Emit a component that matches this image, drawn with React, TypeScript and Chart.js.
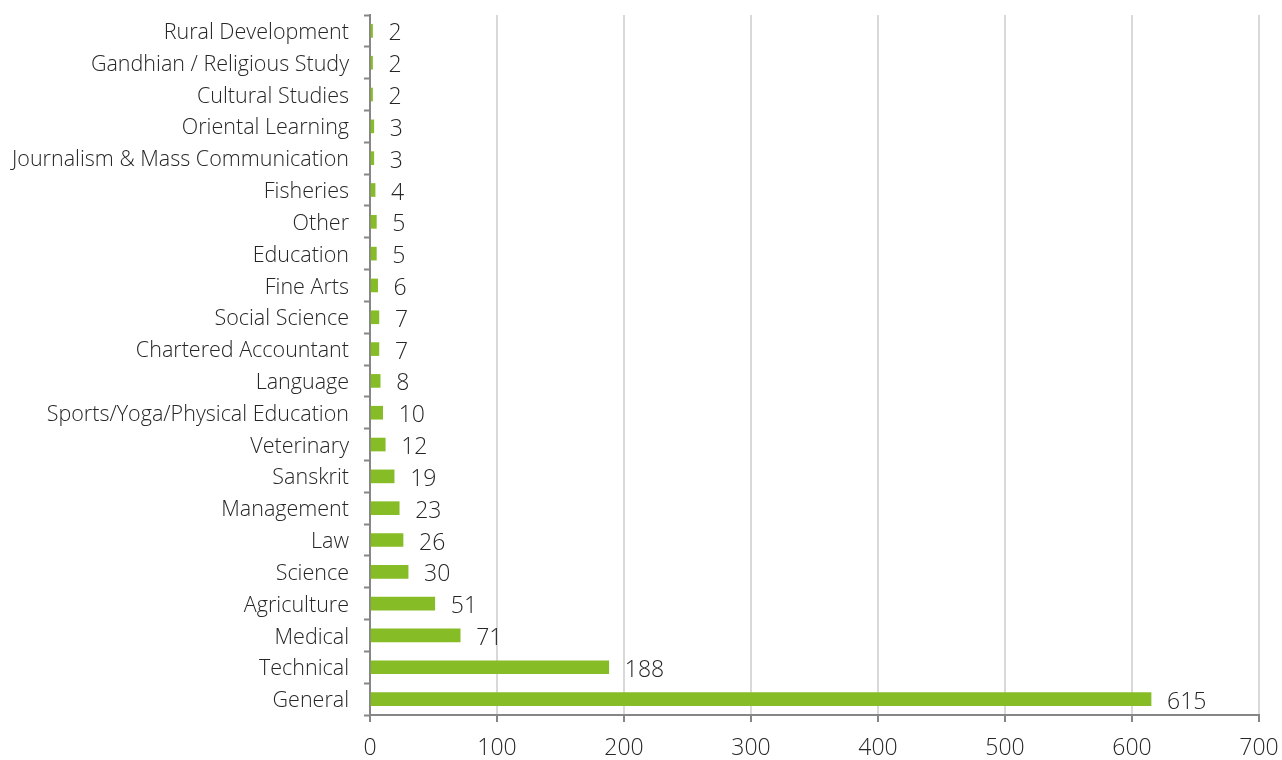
import React, { useEffect, useRef } from "react";
import { Chart, registerables } from "chart.js";

Chart.register(...registerables);

const categories = [
  "Rural Development",
  "Gandhian / Religious Study",
  "Cultural Studies",
  "Oriental Learning",
  "Journalism & Mass Communication",
  "Fisheries",
  "Other",
  "Education",
  "Fine Arts",
  "Social Science",
  "Chartered Accountant",
  "Language",
  "Sports/Yoga/Physical Education",
  "Veterinary",
  "Sanskrit",
  "Management",
  "Law",
  "Science",
  "Agriculture",
  "Medical",
  "Technical",
  "General",
];

const values = [2, 2, 2, 3, 3, 4, 5, 5, 6, 7, 7, 8, 10, 12, 19, 23, 26, 30, 51, 71, 188, 615];

const xMin = 0;
const xMax = 700;
const xStep = 100;

const FONT = "'Open Sans', 'Noto Sans', sans-serif";
const TEXT = "#262626";
const BAR = "#86bc25";

const dataLabels = {
  id: "dataLabels",
  afterDatasetsDraw(chart: any) {
    const ctx = chart.ctx;
    const meta = chart.getDatasetMeta(0);
    ctx.save();
    ctx.font = `300 23px ${FONT}`;
    ctx.fillStyle = TEXT;
    ctx.textAlign = "left";
    ctx.textBaseline = "middle";
    meta.data.forEach((el: any, i: number) => {
      ctx.fillText(String(values[i]), el.x + 16, el.y + 3);
    });
    ctx.restore();
  },
};

export default function App() {
  const ref = useRef<HTMLCanvasElement | null>(null);
  useEffect(() => {
    document.body.style.margin = "0";
    const chart = new Chart(ref.current!, {
      type: "bar",
      data: {
        labels: categories,
        datasets: [
          {
            data: values,
            backgroundColor: BAR,
            barThickness: 13,
          },
        ],
      },
      options: {
        indexAxis: "y",
        animation: false,
        responsive: false,
        layout: { padding: { top: 15, right: 23, left: 0, bottom: 0 } },
        plugins: { legend: { display: false }, tooltip: { enabled: false } },
        scales: {
          x: {
            min: xMin,
            max: xMax,
            ticks: { stepSize: xStep, color: TEXT, font: { family: FONT, size: 23, weight: "300" }, padding: 13 },
            grid: { color: "#d9d9d9", lineWidth: 2, tickColor: "#868686", tickLength: 7, tickWidth: 2 },
            border: { color: "#868686", width: 2 },
            afterFit(scale: any) {
              scale.height = 45;
              scale.paddingLeft = 0;
              scale.paddingRight = 0;
            },
          },
          y: {
            offset: true,
            ticks: {
              color: TEXT,
              font: { family: FONT, size: 21.5, weight: "300" },
              padding: 15,
              labelOffset: 2,
              autoSkip: false,
            },
            grid: { offset: true, drawOnChartArea: false, tickColor: "#868686", tickLength: 6, tickWidth: 2 },
            border: { color: "#868686", width: 2 },
            afterFit(scale: any) {
              scale.width = 370;
              scale.paddingTop = 0;
              scale.paddingBottom = 0;
            },
          },
        },
      },
      plugins: [dataLabels],
    });
    return () => chart.destroy();
  }, []);
  return <canvas ref={ref} width={1282} height={760} style={{ display: "block" }} />;
}
